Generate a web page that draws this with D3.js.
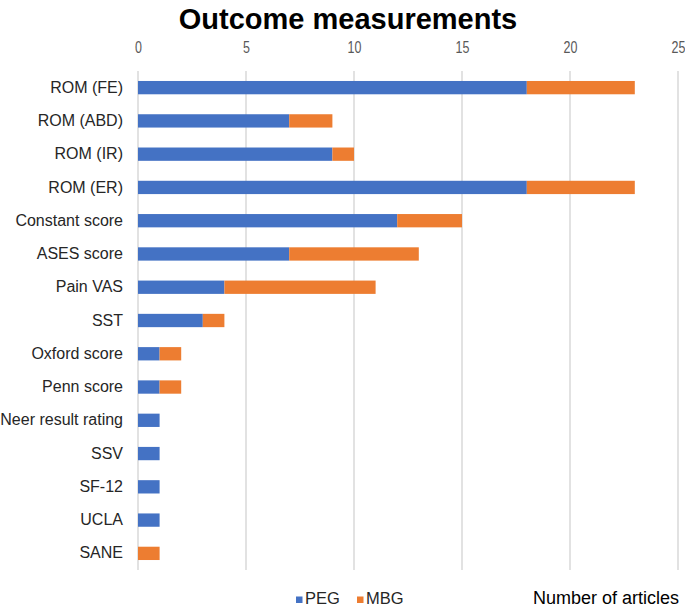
<!DOCTYPE html>
<html><head><meta charset="utf-8">
<script src="https://cdn.jsdelivr.net/npm/d3@7"></script>
<style>body{margin:0;background:#fff;} svg{display:block;}</style>
</head><body>
<svg id="chart" width="685" height="607"></svg>
<script>
const categories = ["ROM (FE)","ROM (ABD)","ROM (IR)","ROM (ER)","Constant score","ASES score","Pain VAS","SST","Oxford score","Penn score","Neer result rating","SSV","SF-12","UCLA","SANE"];
const pegValues = [18,7,9,18,12,7,4,3,1,1,1,1,1,1,0];
const mbgValues = [5,2,1,5,3,6,7,1,1,1,0,0,0,0,1];
const seriesNames = ["PEG","MBG"];
const seriesColors = ["#4472C4","#ED7D31"];
const tickValues = [0,5,10,15,20,25];

const svg = d3.select("#chart");
const font = "'Liberation Sans', Arial, sans-serif";
const x = d3.scaleLinear().domain([0,25]).range([138,678]);
const y = d3.scaleBand().domain(categories).range([71,570]).paddingInner(0.6).paddingOuter(0.3);

svg.append("text").attr("x",348).attr("y",29).attr("text-anchor","middle")
  .attr("font-family",font).attr("font-weight","bold").attr("font-size",29).attr("fill","#000")
  .text("Outcome measurements");

// gridlines
svg.append("g").selectAll("line").data(tickValues).join("line")
  .attr("x1",d=>x(d)).attr("x2",d=>x(d)).attr("y1",71).attr("y2",570)
  .attr("stroke","#D9D9D9").attr("stroke-width",1.5);

// top axis
const ax = svg.append("g").attr("transform","translate(0,53)")
  .call(d3.axisTop(x).tickValues(tickValues).tickSize(0).tickPadding(0));
ax.select(".domain").remove();
ax.selectAll("text").attr("font-family",font).attr("font-size",16).attr("fill","#595959")
  .attr("dy","0").attr("transform","scale(0.78,1)");

// y axis labels
const ay = svg.append("g").attr("transform","translate(123,0)")
  .call(d3.axisLeft(y).tickSize(0).tickPadding(0));
ay.select(".domain").remove();
ay.selectAll("text").attr("font-family",font).attr("font-size",16).attr("fill","#262626");

const stacked = d3.stack().keys([0,1]).value((d,k)=>k===0?pegValues[d]:mbgValues[d])(d3.range(categories.length));
svg.append("g").selectAll("g").data(stacked).join("g").attr("fill",(d,i)=>seriesColors[i])
  .selectAll("rect").data(d=>d.map((v,i)=>({v,i}))).join("rect")
  .attr("x",d=>x(d.v[0])).attr("width",d=>x(d.v[1])-x(d.v[0]))
  .attr("y",d=>y(categories[d.i])).attr("height",y.bandwidth());

// legend
const legX = [296,357];
const leg = svg.append("g");
seriesNames.forEach((n,i)=>{
  leg.append("rect").attr("x",legX[i]).attr("y",596.5).attr("width",6.5).attr("height",6.5).attr("fill",seriesColors[i]);
  leg.append("text").attr("x",legX[i]+9).attr("y",603.5).attr("font-family",font).attr("font-size",16.5).attr("fill","#262626").text(n);
});
svg.append("text").attr("x",679).attr("y",603.5).attr("text-anchor","end").attr("font-family",font)
  .attr("font-size",18).attr("fill","#000").text("Number of articles");
</script>
</body></html>
